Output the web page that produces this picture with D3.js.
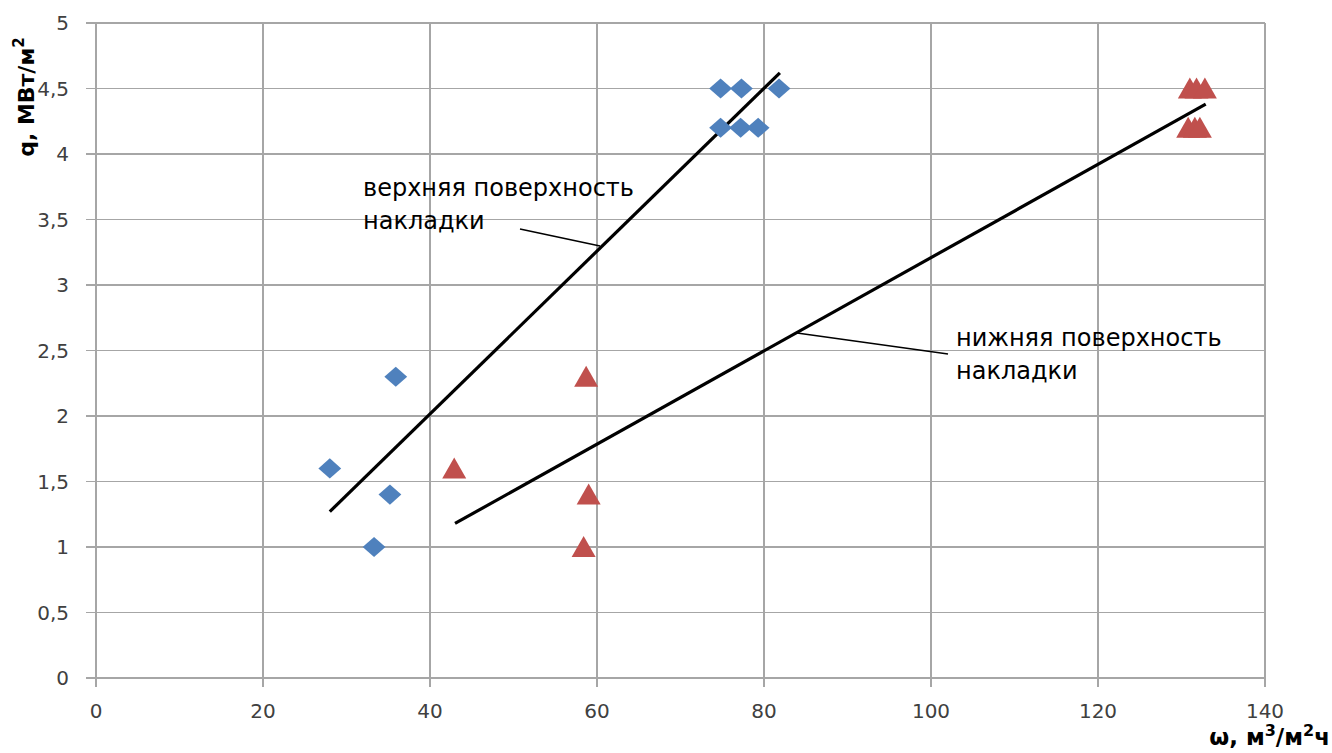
<!DOCTYPE html>
<html><head><meta charset="utf-8">
<script src="https://cdn.jsdelivr.net/npm/d3@7"></script>
<style>body{margin:0;background:#fff}svg{display:block}text{font-family:"DejaVu Sans",Verdana,sans-serif}</style>
</head><body><svg id="c" width="1332" height="753"></svg>
<script>
// Heat flux q vs. specific flow ω for the upper and lower pad surfaces
const upperW = [28, 33.3, 35.2, 35.9, 74.8, 77.3, 81.8, 74.8, 77.2, 79.3];
const upperQ = [1.6, 1.0, 1.4, 2.3, 4.5, 4.5, 4.5, 4.2, 4.2, 4.2];
const lowerW = [42.9, 58.7, 59.0, 58.4, 131.0, 131.8, 132.8, 130.8, 131.6, 132.2];
const lowerQ = [1.6, 2.3, 1.4, 1.0, 4.5, 4.5, 4.5, 4.2, 4.2, 4.2];
// Fitted trend lines (endpoints)
const upperFitW = [28, 81.9], upperFitQ = [1.27, 4.62];
const lowerFitW = [43, 132.9], lowerFitQ = [1.18, 4.38];
const xTicks = [0, 20, 40, 60, 80, 100, 120, 140];
const yTicks = [0, 0.5, 1, 1.5, 2, 2.5, 3, 3.5, 4, 4.5, 5];

const svg = d3.select("#c");
const L = 96, R = 1265, T = 23, B = 678;
const x = d3.scaleLinear().domain([0, 140]).range([L, R]);
const y = d3.scaleLinear().domain([0, 5]).range([B, T]);
const fmt = d => String(d).replace(".", ",");
const grid = "#a6a6a6";

// grid
svg.append("g").selectAll("line").data(xTicks).join("line")
  .attr("x1", d => x(d)).attr("x2", d => x(d)).attr("y1", T).attr("y2", B + 9)
  .attr("stroke", grid).attr("stroke-width", 1.3).attr("shape-rendering", "crispEdges");
svg.append("g").selectAll("line").data(yTicks).join("line")
  .attr("x1", L - 10).attr("x2", R).attr("y1", d => y(d)).attr("y2", d => y(d))
  .attr("stroke", grid).attr("stroke-width", 1.3).attr("shape-rendering", "crispEdges");

// tick labels
svg.append("g").selectAll("text").data(xTicks).join("text")
  .attr("x", d => x(d)).attr("y", B + 40).attr("text-anchor", "middle")
  .attr("font-size", 20).attr("fill", "#404040").text(d => d);
svg.append("g").selectAll("text").data(yTicks).join("text")
  .attr("x", 69).attr("y", d => y(d) + 7).attr("text-anchor", "end")
  .attr("font-size", 20).attr("fill", "#404040").text(fmt);

// axis titles
svg.append("text").attr("transform", "translate(34,97) rotate(-90)")
  .attr("text-anchor", "middle").attr("font-size", 22).attr("font-weight", "bold")
  .attr("fill", "#000")
  .html('q, МВт/м<tspan dy="-10" font-size="15">2</tspan>');
svg.append("text").attr("x", 1330).attr("y", 745).attr("text-anchor", "end")
  .attr("font-size", 23).attr("font-weight", "bold").attr("fill", "#000")
  .html('ω, м<tspan dy="-9" font-size="16">3</tspan><tspan dy="9">/м</tspan><tspan dy="-9" font-size="16">2</tspan><tspan dy="9">ч</tspan>');

// trend lines
const line = d3.line().x(d => x(d[0])).y(d => y(d[1]));
svg.append("path").attr("d", line(d3.zip(upperFitW, upperFitQ)))
  .attr("stroke", "#000").attr("stroke-width", 3.2).attr("fill", "none");
svg.append("path").attr("d", line(d3.zip(lowerFitW, lowerFitQ)))
  .attr("stroke", "#000").attr("stroke-width", 3.2).attr("fill", "none");

// markers
const diamond = d3.symbol().type(d3.symbolSquare).size(260)();
svg.append("g").selectAll("path").data(d3.zip(upperW, upperQ)).join("path")
  .attr("d", diamond)
  .attr("transform", d => `translate(${x(d[0])},${y(d[1])}) scale(1,0.88) rotate(45)`)
  .attr("fill", "#4f81bd");
const tri = "M0,-11 L12,10 L-12,10 Z";
svg.append("g").selectAll("path").data(d3.zip(lowerW, lowerQ)).join("path")
  .attr("d", tri)
  .attr("transform", d => `translate(${x(d[0])},${y(d[1])})`)
  .attr("fill", "#c0504d");

// annotations with leader lines
function note(lines, tx, ty, from, to) {
  const t = svg.append("text").attr("font-size", 24).attr("fill", "#000");
  lines.forEach((s, i) => t.append("tspan").attr("x", tx).attr("y", ty + i * 33).text(s));
  svg.append("line").attr("x1", from[0]).attr("y1", from[1]).attr("x2", to[0]).attr("y2", to[1])
    .attr("stroke", "#000").attr("stroke-width", 1.5);
}
note(["верхняя поверхность", "накладки"], 363, 196, [520, 229], [600, 246]);
note(["нижняя поверхность", "накладки"], 956, 346, [797, 333], [948, 354]);
</script></body></html>
